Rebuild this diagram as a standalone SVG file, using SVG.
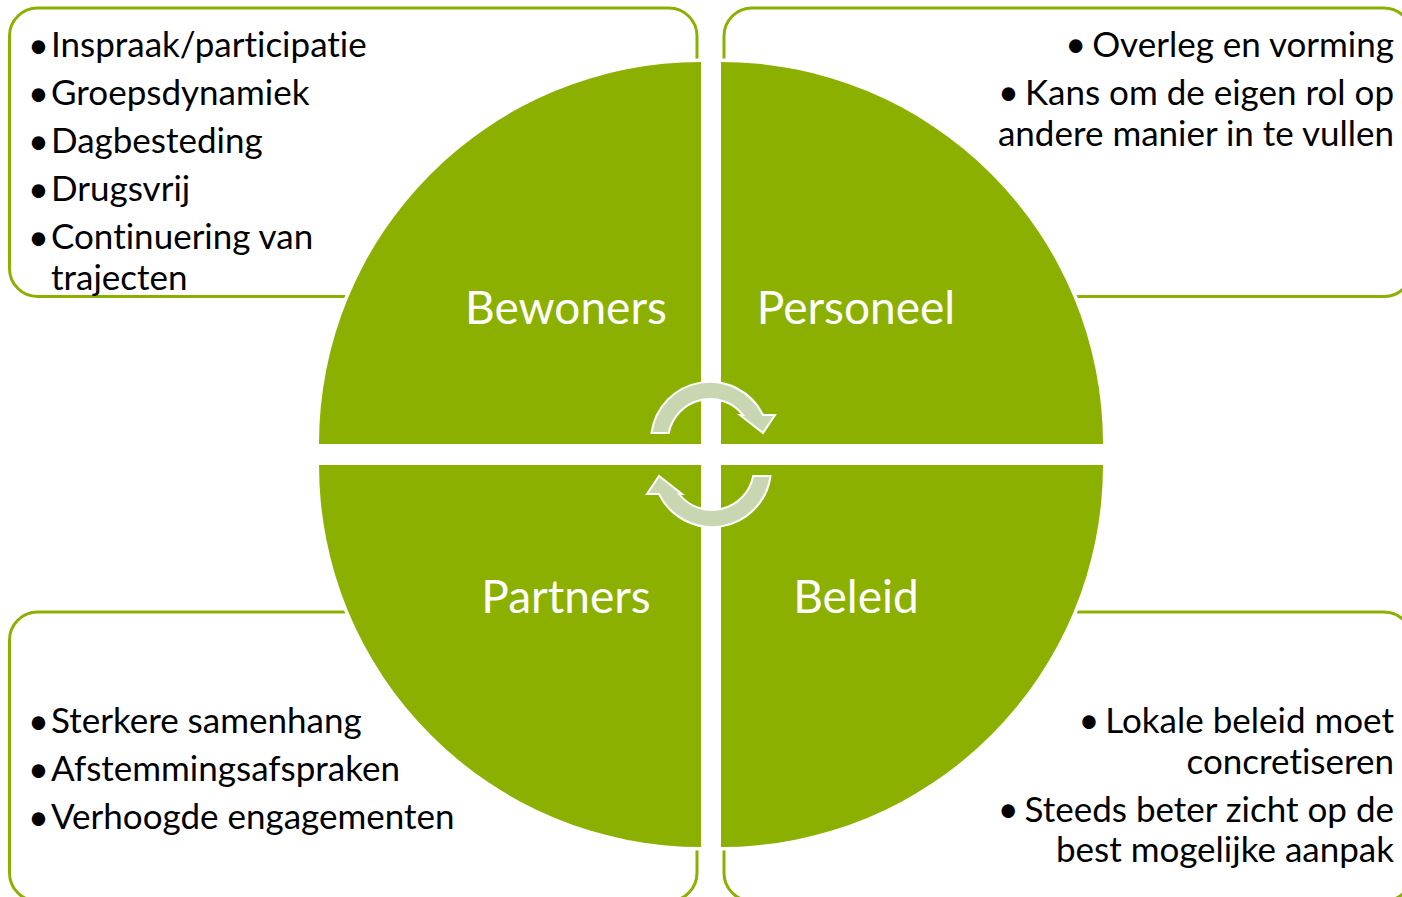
<svg xmlns="http://www.w3.org/2000/svg" width="1402" height="897" viewBox="0 0 1402 897">
<style>
.box{fill:#ffffff;stroke:#8cb000;stroke-width:3}
.quad{fill:#8cb000;stroke:#ffffff;stroke-width:7;paint-order:stroke}
.arrow{fill:#c9d6b2;stroke:#ffffff;stroke-width:2;stroke-linejoin:miter}
.t{font-family:Lato,"Liberation Sans",sans-serif;font-size:35px;fill:#000000;font-variant-ligatures:none}
.b{font-family:Lato,"Liberation Sans",sans-serif;font-size:36px;fill:#000000}
.bs{font-size:36px}
.r{text-anchor:end}
.title{font-family:Lato,"Liberation Sans",sans-serif;font-size:46px;fill:#ffffff;text-anchor:middle;font-variant-ligatures:none}
</style>
<rect width="1402" height="897" fill="#ffffff"/>

<g id="box-bewoners">
<rect class="box" x="9.5" y="8" width="687.5" height="288.5" rx="28" ry="28"/>
<text class="b" x="28" y="58">•</text><text class="t" x="51" y="57">Inspraak/participatie</text>
<text class="b" x="28" y="106">•</text><text class="t" x="51" y="105">Groepsdynamiek</text>
<text class="b" x="28" y="154">•</text><text class="t" x="51" y="153">Dagbesteding</text>
<text class="b" x="28" y="202">•</text><text class="t" x="51" y="201">Drugsvrij</text>
<text class="b" x="28" y="250">•</text><text class="t" x="51" y="249">Continuering van</text>
<text class="t" x="51" y="290">trajecten</text>
</g>

<g id="box-personeel">
<rect class="box" x="724" y="8" width="688" height="288.5" rx="28" ry="28"/>
<text class="t r" x="1394" y="57"><tspan class="bs">•</tspan><tspan dx="6">Overleg en vorming</tspan></text>
<text class="t r" x="1394" y="105"><tspan class="bs">•</tspan><tspan dx="6">Kans om de eigen rol op</tspan></text>
<text class="t r" x="1394" y="146">andere manier in te vullen</text>
</g>

<g id="box-partners">
<rect class="box" x="9.5" y="612" width="687.5" height="289" rx="28" ry="28"/>
<text class="b" x="28" y="734">•</text><text class="t" x="51" y="733">Sterkere samenhang</text>
<text class="b" x="28" y="782">•</text><text class="t" x="51" y="781">Afstemmingsafspraken</text>
<text class="b" x="28" y="830">•</text><text class="t" x="51" y="829">Verhoogde engagementen</text>
</g>

<g id="box-beleid">
<rect class="box" x="724" y="612" width="688" height="289" rx="28" ry="28"/>
<text class="t r" x="1394" y="733"><tspan class="bs">•</tspan><tspan dx="6">Lokale beleid moet</tspan></text>
<text class="t r" x="1394" y="774">concretiseren</text>
<text class="t r" x="1394" y="822"><tspan class="bs">•</tspan><tspan dx="6">Steeds beter zicht op de</tspan></text>
<text class="t r" x="1394" y="862">best mogelijke aanpak</text>
</g>

<g id="node-bewoners">
<path class="quad" d="M701,444 L319,444 A382,382 0 0,1 701,62 Z"/>
<text class="title" x="566" y="324">Bewoners</text>
</g>
<g id="node-personeel">
<path class="quad" d="M721,444 L721,62 A382,382 0 0,1 1103,444 Z"/>
<text class="title" x="856" y="324">Personeel</text>
</g>
<g id="node-partners">
<path class="quad" d="M701,465 L701,847 A382,382 0 0,1 319,465 Z"/>
<text class="title" x="566" y="613">Partners</text>
</g>
<g id="node-beleid">
<path class="quad" d="M721,465 L1103,465 A382,382 0 0,1 721,847 Z"/>
<text class="title" x="856" y="613">Beleid</text>
</g>

<g id="connectors">
<path class="arrow" d="M651.5,433 A59,59 0 0,1 763,415 L775,415 L763,433 L740,415 L743,415 A42,42 0 0,0 668.8,433 Z"/>
<path class="arrow" transform="rotate(180 711 454.5)" d="M651.5,433 A59,59 0 0,1 763,415 L775,415 L763,433 L740,415 L743,415 A42,42 0 0,0 668.8,433 Z"/>
</g>
</svg>
